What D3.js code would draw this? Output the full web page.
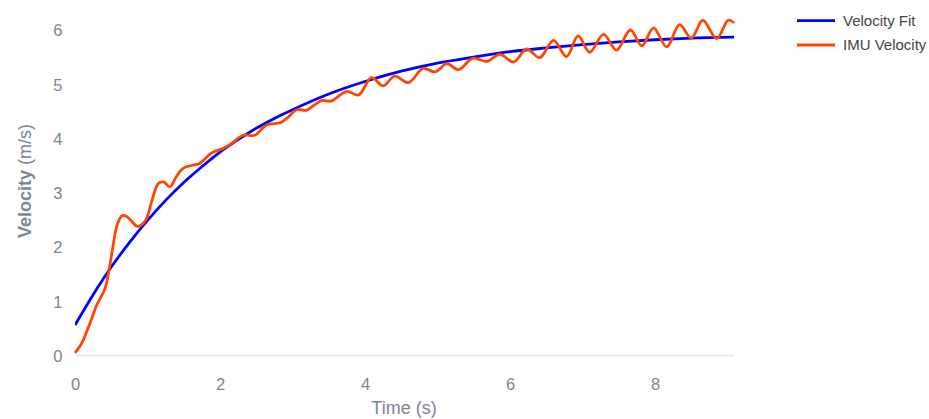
<!DOCTYPE html>
<html><head><meta charset="utf-8">
<script src="https://cdn.jsdelivr.net/npm/d3@7"></script>
<style>body{margin:0;background:#fff} svg{display:block}</style>
</head><body>
<svg id="c" width="929" height="419"></svg>
<script>
// ---- data ----
const seriesNames = ["Velocity Fit", "IMU Velocity"];
const seriesColors = ["#0000ff", "#ff4500"];
const fitT = [0,0.25,0.5,0.75,1,1.25,1.5,1.75,2,2.25,2.5,2.75,3,3.5,4,4.5,5,5.5,6,6.5,7,7.5,8,8.5,9.09];
const fitV = [0.56,1.12,1.63,2.08,2.49,2.86,3.19,3.48,3.75,3.98,4.19,4.37,4.53,4.82,5.05,5.24,5.39,5.50,5.60,5.67,5.73,5.78,5.82,5.85,5.87];
const imuT = [0,0.09,0.2,0.3,0.41,0.46,0.52,0.58,0.65,0.7,0.77,0.86,0.93,0.99,1.06,1.15,1.22,1.31,1.40,1.49,1.63,1.72,1.88,2.05,2.16,2.32,2.48,2.64,2.83,2.92,3.06,3.19,3.40,3.53,3.75,3.91,4.09,4.25,4.41,4.60,4.80,4.97,5.13,5.29,5.49,5.68,5.86,6.05,6.23,6.41,6.60,6.78,6.94,7.10,7.29,7.47,7.66,7.82,7.98,8.16,8.34,8.50,8.66,8.85,9.01,9.09];
const imuV = [0.05,0.22,0.57,0.93,1.22,1.5,1.98,2.4,2.58,2.57,2.49,2.38,2.42,2.53,2.85,3.17,3.2,3.11,3.3,3.45,3.51,3.54,3.73,3.82,3.91,4.06,4.06,4.25,4.29,4.37,4.53,4.52,4.70,4.69,4.87,4.80,5.12,4.97,5.15,5.03,5.29,5.23,5.38,5.27,5.48,5.42,5.55,5.41,5.65,5.49,5.81,5.51,5.89,5.59,5.92,5.63,6.00,5.71,6.04,5.69,6.10,5.85,6.18,5.84,6.18,6.13];
const xTicks = [0,2,4,6,8];
const yTicks = [0,1,2,3,4,5,6];
const xTitle = "Time (s)";

// ---- layout ----
const svg = d3.select("#c");
const L = 75, R = 734, B = 355.5;
const x = d3.scaleLinear().domain([0, 9.09]).range([L, R]);
const y = d3.scaleLinear().domain([0, 6.4]).range([B, B - 6.4*54.25]);
const txt = "#7c849a";
const font = "'Liberation Sans', Arial, Helvetica, sans-serif";

// zero line
svg.append("line").attr("x1", L).attr("x2", R).attr("y1", y(0)).attr("y2", y(0))
  .attr("stroke", "#e8ebf3").attr("stroke-width", 2);

// axes
const gx = svg.append("g").attr("transform", `translate(0,${B})`)
  .call(d3.axisBottom(x).tickValues(xTicks).tickSize(0).tickPadding(23).tickFormat(d3.format("d")));
const gy = svg.append("g").attr("transform", `translate(${L},0)`)
  .call(d3.axisLeft(y).tickValues(yTicks).tickSize(0).tickPadding(12.5).tickFormat(d3.format("d")));
[gx, gy].forEach(g => {
  g.select(".domain").remove();
  g.selectAll("text").attr("fill", txt).style("font-family", font).style("font-size", "16.5px");
});
gy.selectAll("text").attr("dy", "0.36em");

// axis titles
svg.append("text").attr("x", 404).attr("y", 414).attr("text-anchor", "middle")
  .attr("fill", txt).style("font-family", font).style("font-size", "18px").text(xTitle);
const yt = svg.append("text").attr("transform", "translate(31,181) rotate(-90)")
  .attr("text-anchor", "middle").attr("fill", txt).style("font-family", font).style("font-size", "18px");
yt.append("tspan").attr("font-weight", "bold").text("Velocity");
yt.append("tspan").text(" (m/s)");

// lines
const fitData = fitT.map((t, i) => [t, fitV[i]]);
const imuData = imuT.map((t, i) => [t, imuV[i]]);
svg.append("clipPath").attr("id", "cp").append("rect")
  .attr("x", L).attr("y", 0).attr("width", R - L).attr("height", B + 2);
svg.append("path").datum(fitData).attr("clip-path", "url(#cp)")
  .attr("d", d3.line().x(d => x(d[0])).y(d => y(d[1])).curve(d3.curveMonotoneX))
  .attr("fill", "none").attr("stroke", seriesColors[0]).attr("stroke-width", 2.8);
svg.append("path").datum(imuData)
  .attr("d", d3.line().x(d => x(d[0])).y(d => y(d[1])).curve(d3.curveCatmullRom.alpha(0.5)))
  .attr("fill", "none").attr("stroke", seriesColors[1]).attr("stroke-width", 2.8);

// legend
const lg = svg.append("g");
seriesNames.forEach((n, i) => {
  const yy = 20.7 + i * 24.3;
  lg.append("line").attr("x1", 797).attr("x2", 835).attr("y1", yy).attr("y2", yy)
    .attr("stroke", seriesColors[i]).attr("stroke-width", 2.8);
  lg.append("text").attr("x", 843).attr("y", yy).attr("dy", "0.36em")
    .attr("fill", "#444").style("font-family", font).style("font-size", "15px").text(n);
});
</script>
</body></html>
